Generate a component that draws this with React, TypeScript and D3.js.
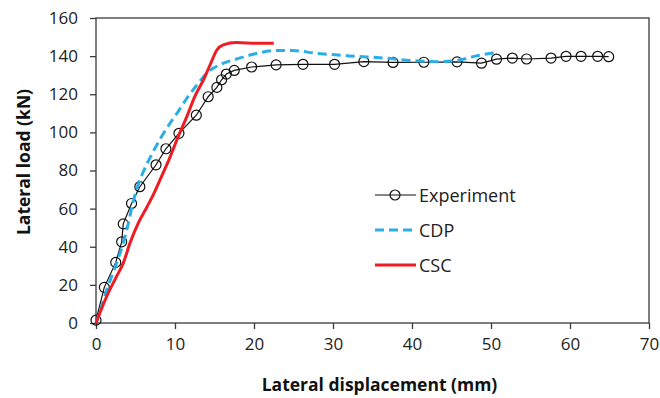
import React, { useEffect, useRef } from "react";
import * as d3 from "d3";

// Experiment (test data, with markers)
const expDisp = [0, 1.05, 2.5, 3.25, 3.45, 4.5, 5.55, 7.6, 8.85, 10.5, 12.7, 14.2, 15.3, 15.9, 16.5, 17.5, 19.7, 22.8, 26.2, 30.2, 33.9, 37.6, 41.5, 45.7, 48.8, 50.7, 52.7, 54.5, 57.6, 59.5, 61.4, 63.5, 64.9];
const expLoad = [1.5, 18.7, 31.8, 42.6, 52, 62.7, 71.5, 83, 91.4, 99.5, 109, 118.7, 123.6, 127.6, 130.6, 132.5, 134.3, 135.4, 135.7, 135.7, 137.1, 136.7, 136.8, 137, 136.3, 138.4, 139, 138.5, 139, 139.9, 139.9, 139.9, 139.7];

// CDP model
const cdpDisp = [0, 0.3, 1.5, 2.6, 3.45, 4.1, 4.7, 5.3, 5.8, 6.4, 7.25, 8.3, 9.37, 10.4, 11.5, 12.95, 14.0, 15.9, 17.8, 19.9, 22.8, 24.9, 27.9, 32.1, 36.8, 40.1, 43.5, 45.6, 47.7, 49.4, 50.7];
const cdpLoad = [0, 3.5, 19, 31.4, 41.9, 52.4, 63.5, 72, 77.5, 83, 90, 97.8, 104.8, 110.9, 117.9, 125.8, 131, 135.9, 138.5, 141, 143, 142.9, 141.5, 140.1, 138.9, 137.6, 137.1, 137.6, 139.7, 141.1, 141.8];

// CSC model
const cscDisp = [0, 1.35, 2.6, 3.45, 4.3, 5.35, 6.4, 7.1, 8.1, 9.4, 10.4, 11.5, 12.5, 13.6, 14.5, 15.3, 16.1, 17.8, 20.3, 22.5];
const cscLoad = [0, 13.9, 24.4, 31.4, 41.9, 52.4, 60.5, 66, 75.1, 87.3, 97.8, 108.3, 118.8, 127.5, 136, 143.2, 145.9, 147.1, 146.8, 146.8];

const xTicks = [0, 10, 20, 30, 40, 50, 60, 70];
const yTicks = [0, 20, 40, 60, 80, 100, 120, 140, 160];

const width = 660;
const height = 398;
const font = "'Open Sans', 'Liberation Sans', sans-serif";

type Pt = [number, number];
const zip = (a: number[], b: number[]): Pt[] => a.map((v, i) => [v, b[i]]);

export default function App() {
  const svgRef = useRef<SVGSVGElement>(null);

  useEffect(() => {
    const margin = { top: 18, right: 11, bottom: 75, left: 96 };
    const innerWidth = width - margin.left - margin.right;
    const innerHeight = height - margin.top - margin.bottom;

    const svg = d3.select(svgRef.current);
    svg.selectAll("*").remove();

    const g = svg.append("g").attr("transform", `translate(${margin.left},${margin.top})`);

    const x = d3.scaleLinear().domain([0, 70]).range([0, innerWidth]);
    const y = d3.scaleLinear().domain([0, 160]).range([innerHeight, 0]);

    // axes
    const xAxis = g
      .append("g")
      .attr("transform", `translate(0,${innerHeight})`)
      .call(d3.axisBottom(x).tickValues(xTicks).tickSize(6).tickPadding(9).tickSizeOuter(0));
    const yAxis = g
      .append("g")
      .call(d3.axisLeft(y).tickValues(yTicks).tickSize(6).tickPadding(12).tickSizeOuter(0));

    [xAxis, yAxis].forEach((a) => {
      a.select(".domain").remove();
      a.selectAll("line").attr("stroke", "#3a3a3a").attr("stroke-width", 1.3);
      a.selectAll("text")
        .attr("font-family", font)
        .attr("font-size", 17)
        .attr("fill", "#222");
    });

    // plot frame
    g.append("rect")
      .attr("width", innerWidth)
      .attr("height", innerHeight)
      .attr("fill", "none")
      .attr("stroke", "#3a3a3a")
      .attr("stroke-width", 1.3);

    const line = d3.line<Pt>().x((d) => x(d[0])).y((d) => y(d[1]));
    const smooth = d3
      .line<Pt>()
      .x((d) => x(d[0]))
      .y((d) => y(d[1]))
      .curve(d3.curveMonotoneX);

    const expData = zip(expDisp, expLoad);

    g.append("path")
      .attr("d", line(expData)!)
      .attr("fill", "none")
      .attr("stroke", "#111")
      .attr("stroke-width", 1.2);

    g.append("g")
      .selectAll("circle")
      .data(expData)
      .join("circle")
      .attr("cx", (d) => x(d[0]))
      .attr("cy", (d) => y(d[1]))
      .attr("r", 5)
      .attr("fill", "none")
      .attr("stroke", "#111")
      .attr("stroke-width", 1.2);

    g.append("path")
      .attr("d", smooth(zip(cdpDisp, cdpLoad))!)
      .attr("fill", "none")
      .attr("stroke", "#2aaee6")
      .attr("stroke-width", 3)
      .attr("stroke-dasharray", "9,5");

    g.append("path")
      .attr("d", smooth(zip(cscDisp, cscLoad))!)
      .attr("fill", "none")
      .attr("stroke", "#ee1c25")
      .attr("stroke-width", 3);

    // axis titles
    svg.append("text")
      .attr("x", margin.left + innerWidth / 2 + 7)
      .attr("y", 391)
      .attr("text-anchor", "middle")
      .attr("font-family", font)
      .attr("font-weight", "bold")
      .attr("font-size", 17.5)
      .attr("fill", "#111")
      .text("Lateral displacement (mm)");

    svg.append("text")
      .attr("transform", `translate(30,162) rotate(-90)`)
      .attr("text-anchor", "middle")
      .attr("font-family", font)
      .attr("font-weight", "bold")
      .attr("font-size", 17.5)
      .attr("fill", "#111")
      .text("Lateral load (kN)");

    // legend
    const legend = svg.append("g").attr("transform", "translate(375,195)");
    const items = [
      { name: "Experiment", color: "#111", w: 1.2, dash: null as string | null, marker: true },
      { name: "CDP", color: "#2aaee6", w: 3, dash: "9,5", marker: false },
      { name: "CSC", color: "#ee1c25", w: 3, dash: null, marker: false },
    ];
    items.forEach((it, i) => {
      const row = legend.append("g").attr("transform", `translate(0,${i * 35})`);
      row.append("line")
        .attr("x1", 0)
        .attr("x2", 41)
        .attr("stroke", it.color)
        .attr("stroke-width", it.w)
        .attr("stroke-dasharray", it.dash);
      if (it.marker) {
        row.append("circle")
          .attr("cx", 20)
          .attr("r", 5)
          .attr("fill", "none")
          .attr("stroke", it.color)
          .attr("stroke-width", 1.2);
      }
      row.append("text")
        .attr("x", 44)
        .attr("y", 6.5)
        .attr("font-family", font)
        .attr("font-size", 18)
        .attr("fill", "#222")
        .text(it.name);
    });
  }, []);

  return (
    <svg
      ref={svgRef}
      width={width}
      height={height}
      style={{ position: "absolute", left: 0, top: 0, background: "#fff" }}
    />
  );
}
